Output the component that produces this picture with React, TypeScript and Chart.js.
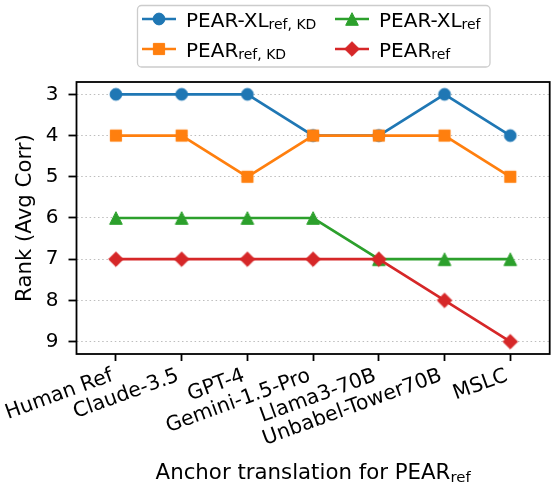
import React, { useEffect, useRef } from 'react';
import { Chart, registerables } from 'chart.js';

Chart.register(...registerables);

// ---------------- data ----------------
const categories = ['Human Ref', 'Claude-3.5', 'GPT-4', 'Gemini-1.5-Pro', 'Llama3-70B', 'Unbabel-Tower70B', 'MSLC'];
const pearXlRefKd = [3, 3, 3, 4, 4, 3, 4];
const pearRefKd = [4, 4, 5, 4, 4, 4, 5];
const pearXlRef = [6, 6, 6, 6, 7, 7, 7];
const pearRef = [7, 7, 7, 7, 7, 8, 9];
const yTicks = [3, 4, 5, 6, 7, 8, 9];

const yTitle = 'Rank (Avg Corr)';
const xTitleMain = 'Anchor translation for PEAR';
const xTitleSub = 'ref';

const BLUE = '#1f77b4';
const ORANGE = '#ff7f0e';
const GREEN = '#2ca02c';
const RED = '#d62728';
const FONT = '"DejaVu Sans", sans-serif';

type Kind = 'circle' | 'square' | 'triangle' | 'diamond';

function makeMarker(kind: Kind, color: string): HTMLCanvasElement {
  const size = 24;
  const c = document.createElement('canvas');
  c.width = size;
  c.height = size;
  const g = c.getContext('2d')!;
  const m = size / 2;
  g.fillStyle = color;
  g.strokeStyle = color;
  g.lineWidth = 1;
  g.lineJoin = 'miter';
  g.beginPath();
  if (kind === 'circle') {
    g.arc(m, m, 5.9, 0, Math.PI * 2);
  } else if (kind === 'square') {
    g.rect(m - 5.6, m - 5.6, 11.2, 11.2);
  } else if (kind === 'triangle') {
    g.moveTo(m, m - 6.3);
    g.lineTo(m + 6.3, m + 6.3);
    g.lineTo(m - 6.3, m + 6.3);
    g.closePath();
  } else {
    g.moveTo(m, m - 7.3);
    g.lineTo(m + 7.3, m);
    g.lineTo(m, m + 7.3);
    g.lineTo(m - 7.3, m);
    g.closePath();
  }
  g.fill();
  g.stroke();
  return c;
}

function drawRich(ctx: CanvasRenderingContext2D, parts: [string, boolean][], x: number, y: number, size: number, align: 'left' | 'center') {
  const widths = parts.map(([t, sub]) => {
    ctx.font = `${sub ? size * 0.7 : size}px ${FONT}`;
    return ctx.measureText(t).width;
  });
  const total = widths.reduce((a, b) => a + b, 0);
  let cx = align === 'center' ? x - total / 2 : x;
  ctx.textAlign = 'left';
  ctx.textBaseline = 'alphabetic';
  parts.forEach(([t, sub], i) => {
    ctx.font = `${sub ? size * 0.7 : size}px ${FONT}`;
    ctx.fillText(t, cx, sub ? y + size * 0.14 : y);
    cx += widths[i];
  });
}

export default function App() {
  const ref = useRef<HTMLCanvasElement | null>(null);

  useEffect(() => {
    if (!ref.current) return;
    const markers = {
      blue: makeMarker('circle', BLUE),
      orange: makeMarker('square', ORANGE),
      green: makeMarker('triangle', GREEN),
      red: makeMarker('diamond', RED),
    };

    const mk = (vals: number[]) => vals.map((v, i) => ({ x: i, y: v }));

    const legendItems = [
      { parts: [['PEAR-XL', false], ['ref, KD', true]] as [string, boolean][], color: BLUE, marker: markers.blue, x: 142, y: 19 },
      { parts: [['PEAR', false], ['ref, KD', true]] as [string, boolean][], color: ORANGE, marker: markers.orange, x: 142, y: 49 },
      { parts: [['PEAR-XL', false], ['ref', true]] as [string, boolean][], color: GREEN, marker: markers.green, x: 335, y: 19 },
      { parts: [['PEAR', false], ['ref', true]] as [string, boolean][], color: RED, marker: markers.red, x: 335, y: 49 },
    ];

    const decor = {
      id: 'decor',
      afterDraw(chart: any) {
        const ctx: CanvasRenderingContext2D = chart.ctx;
        const a = chart.chartArea;
        // frame
        ctx.save();
        ctx.strokeStyle = '#000';
        ctx.lineWidth = 1.8;
        ctx.strokeRect(a.left, a.top, a.right - a.left, a.bottom - a.top);
        ctx.restore();

        // rotated x tick labels (right aligned at tick)
        const xs = chart.scales.x;
        const f = 20.4;
        const ang = (20 * Math.PI) / 180;
        const asc = 0.76 * f;
        const desc = 0.236 * f;
        const c = Math.cos(ang);
        const s = Math.sin(ang);
        const y0 = a.bottom + 7 + 4.7;
        ctx.save();
        ctx.font = `${f}px ${FONT}`;
        ctx.fillStyle = '#000';
        ctx.textAlign = 'left';
        ctx.textBaseline = 'alphabetic';
        categories.forEach((lab, i) => {
          const W = ctx.measureText(lab).width;
          const pts = [[0, -asc], [W, -asc], [0, desc], [W, desc]].map(([px, py]) => [px * c + py * s, -px * s + py * c]);
          const maxX = Math.max(...pts.map((p) => p[0]));
          const minY = Math.min(...pts.map((p) => p[1]));
          const tx = xs.getPixelForValue(i) - maxX;
          const ty = y0 - minY;
          ctx.save();
          ctx.translate(tx, ty);
          ctx.rotate(-ang);
          ctx.fillText(lab, 0, 0);
          ctx.restore();
        });
        ctx.restore();

        // axis titles
        ctx.save();
        ctx.fillStyle = '#000';
        ctx.font = `21.3px ${FONT}`;
        ctx.textAlign = 'center';
        ctx.textBaseline = 'alphabetic';
        ctx.translate(30.5, (a.top + a.bottom) / 2);
        ctx.rotate(-Math.PI / 2);
        ctx.fillText(yTitle, 0, 0);
        ctx.restore();

        ctx.save();
        ctx.fillStyle = '#000';
        drawRich(ctx, [[xTitleMain, false], [xTitleSub, true]], (a.left + a.right) / 2, 479, 21.3, 'center');
        ctx.restore();

        // legend
        ctx.save();
        const bx = 137.5, by = 5.5, bw = 352.5, bh = 61.5, r = 4;
        ctx.beginPath();
        ctx.moveTo(bx + r, by);
        ctx.lineTo(bx + bw - r, by);
        ctx.arcTo(bx + bw, by, bx + bw, by + r, r);
        ctx.lineTo(bx + bw, by + bh - r);
        ctx.arcTo(bx + bw, by + bh, bx + bw - r, by + bh, r);
        ctx.lineTo(bx + r, by + bh);
        ctx.arcTo(bx, by + bh, bx, by + bh - r, r);
        ctx.lineTo(bx, by + r);
        ctx.arcTo(bx, by, bx + r, by, r);
        ctx.closePath();
        ctx.fillStyle = 'rgba(255,255,255,0.8)';
        ctx.fill();
        ctx.strokeStyle = '#cccccc';
        ctx.lineWidth = 1.3;
        ctx.stroke();
        legendItems.forEach((it) => {
          ctx.strokeStyle = it.color;
          ctx.lineWidth = 2.7;
          ctx.beginPath();
          ctx.moveTo(it.x, it.y);
          ctx.lineTo(it.x + 34, it.y);
          ctx.stroke();
          const mm = it.marker;
          ctx.drawImage(mm, it.x + 17 - mm.width / 2, it.y - mm.height / 2);
          ctx.fillStyle = '#000';
          drawRich(ctx, it.parts, it.x + 44, it.y + 7.5, 20, 'left');
        });
        ctx.restore();
      },
    };

    const ds = (label: string, vals: number[], color: string, marker: HTMLCanvasElement, order: number) => ({
      label,
      data: mk(vals),
      borderColor: color,
      backgroundColor: color,
      borderWidth: 2.7,
      pointStyle: marker,
      pointRadius: 7,
      pointHoverRadius: 7,
      tension: 0,
      clip: false as any,
      order,
    });

    const chart = new Chart(ref.current, {
      type: 'line',
      data: {
        datasets: [
          ds('PEAR-XL ref, KD', pearXlRefKd, BLUE, markers.blue, 4),
          ds('PEAR ref, KD', pearRefKd, ORANGE, markers.orange, 3),
          ds('PEAR-XL ref', pearXlRef, GREEN, markers.green, 2),
          ds('PEAR ref', pearRef, RED, markers.red, 1),
        ],
      },
      options: {
        responsive: false,
        animation: false,
        events: [],
        layout: { autoPadding: false, padding: { top: 82, right: 1.3, left: 0, bottom: 0 } },
        plugins: { legend: { display: false }, tooltip: { enabled: false }, title: { display: false } },
        scales: {
          x: {
            type: 'linear',
            min: -0.6,
            max: 6.6,
            afterBuildTicks: (s: any) => {
              s.ticks = categories.map((_, i) => ({ value: i }));
            },
            afterFit: (s: any) => {
              s.height = 132;
              s.paddingLeft = 0;
              s.paddingRight = 0;
              s.paddingTop = 0;
              s.paddingBottom = 0;
            },
            ticks: { display: false },
            grid: {
              drawOnChartArea: false,
              drawTicks: true,
              tickLength: 7,
              tickColor: '#000',
              tickWidth: 1.8,
              color: '#000',
            },
            border: { display: false },
          },
          y: {
            type: 'linear',
            reverse: true,
            min: 2.7,
            max: 9.3,
            afterBuildTicks: (s: any) => {
              s.ticks = yTicks.map((v) => ({ value: v }));
            },
            afterFit: (s: any) => {
              s.width = 76.5;
              s.paddingLeft = 0;
              s.paddingRight = 0;
              s.paddingTop = 0;
              s.paddingBottom = 0;
            },
            ticks: {
              color: '#000',
              font: { family: FONT, size: 20 },
              padding: 10,
              callback: (v: any) => String(v),
            },
            grid: {
              drawOnChartArea: true,
              drawTicks: true,
              tickLength: 8,
              tickColor: '#000',
              tickWidth: 1.8,
              tickBorderDash: [],
              color: '#bdbdbd',
              lineWidth: 1,
            },
            border: { display: false, dash: [1.5, 2.7] },
          },
        },
      },
      plugins: [decor],
    });

    return () => chart.destroy();
  }, []);

  return (
    <div style={{ position: 'absolute', left: 0, top: 0, width: 551, height: 486, background: '#fff' }}>
      <canvas ref={ref} width={551} height={486} style={{ display: 'block' }} />
    </div>
  );
}
